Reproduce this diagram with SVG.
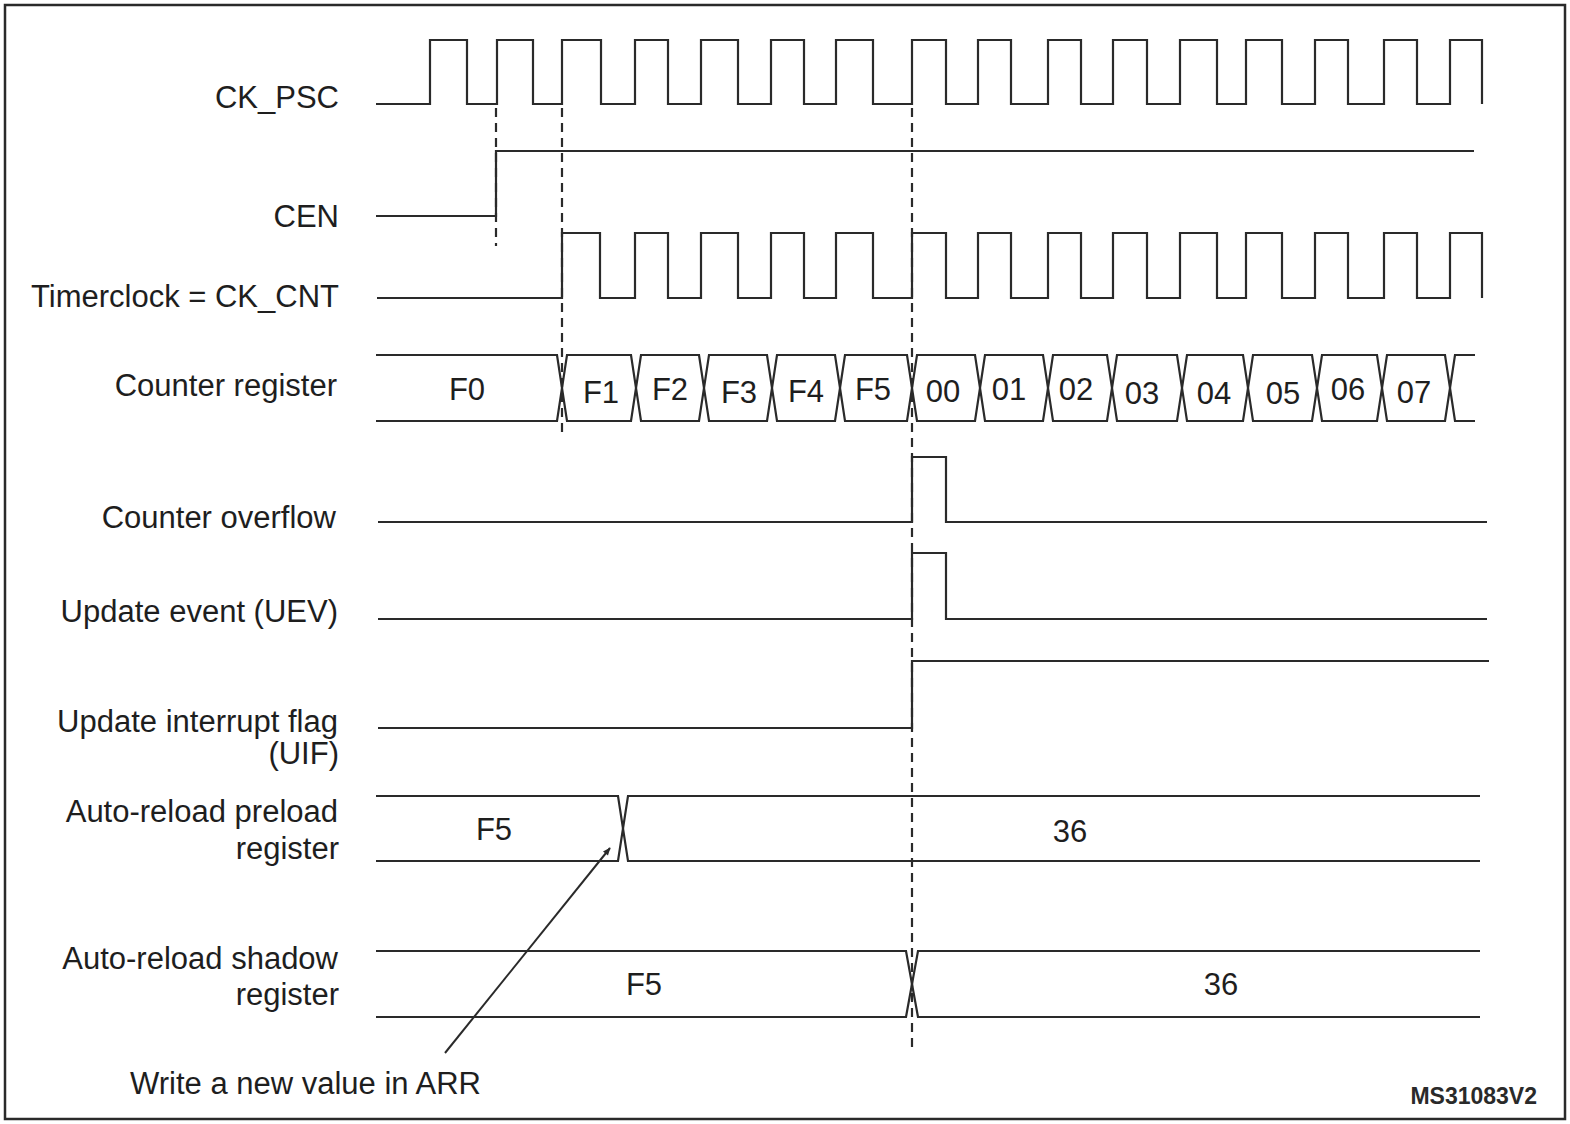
<svg xmlns="http://www.w3.org/2000/svg" width="1570" height="1124" viewBox="0 0 1570 1124">
<style>
.w{fill:none;stroke:#2a2a2a;stroke-width:2.2;stroke-linejoin:miter}
.d{fill:none;stroke:#2a2a2a;stroke-width:2.2;stroke-dasharray:9 6}
.l{font-family:"Liberation Sans",Arial,sans-serif;font-size:31px;fill:#1e1e1e;text-anchor:end}
.v{font-family:"Liberation Sans",Arial,sans-serif;font-size:31px;fill:#1e1e1e;text-anchor:middle}
</style>
<defs>
<marker id="ah" viewBox="0 0 10 10" refX="9" refY="5" markerWidth="9" markerHeight="8" orient="auto" markerUnits="userSpaceOnUse">
<path d="M0,1 L10,5 L0,9 z" fill="#2a2a2a"/>
</marker>
</defs>
<rect x="5" y="5" width="1560" height="1114" fill="#fff" stroke="#2a2a2a" stroke-width="2.5"/>

<g id="ck_psc">
<text class="l" x="339" y="108">CK_PSC</text>
<path class="w" d="M376,104 H430 V40 H467 V104 H497 V40 H533 V104 H562 V40 H601 V104 H635 V40 H668 V104 H701 V40 H738 V104 H771 V40 H804 V104 H836 V40 H873 V104 H912 V40 H946 V104 H978 V40 H1011 V104 H1048 V40 H1081 V104 H1113 V40 H1147 V104 H1180 V40 H1217 V104 H1246 V40 H1282 V104 H1315 V40 H1348 V104 H1384 V40 H1417 V104 H1450 V40 H1482 V104"/>
</g>

<g id="cen">
<text class="l" x="339" y="227">CEN</text>
<path class="w" d="M376,216 H496 V151 H1474"/>
</g>

<g id="ck_cnt">
<text class="l" x="339" y="307">Timerclock = CK_CNT</text>
<path class="w" d="M377,298 H562 V233 H600 V298 H635 V233 H668 V298 H701 V233 H738 V298 H771 V233 H804 V298 H836 V233 H873 V298 H912 V233 H946 V298 H978 V233 H1011 V298 H1048 V233 H1081 V298 H1113 V233 H1147 V298 H1180 V233 H1217 V298 H1246 V233 H1282 V298 H1315 V233 H1348 V298 H1384 V233 H1417 V298 H1450 V233 H1482 V298"/>
</g>

<g id="counter">
<text class="l" x="337" y="396">Counter register</text>
<path class="w" d="M376,355 H557 L567,421 H631 L641,355 H699 L709,421 H767 L777,355 H835 L845,421 H907 L917,355 H975 L985,421 H1043 L1053,355 H1107 L1117,421 H1177 L1187,355 H1243 L1253,421 H1312 L1322,355 H1377 L1387,421 H1445 L1455,355 H1475"/>
<path class="w" d="M376,421 H557 L567,355 H631 L641,421 H699 L709,355 H767 L777,421 H835 L845,355 H907 L917,421 H975 L985,355 H1043 L1053,421 H1107 L1117,355 H1177 L1187,421 H1243 L1253,355 H1312 L1322,421 H1377 L1387,355 H1445 L1455,421 H1475"/>
<text class="v" x="467" y="400">F0</text>
<text class="v" x="601" y="403">F1</text>
<text class="v" x="670" y="400">F2</text>
<text class="v" x="739" y="403">F3</text>
<text class="v" x="806" y="402">F4</text>
<text class="v" x="873" y="400">F5</text>
<text class="v" x="943" y="402">00</text>
<text class="v" x="1009" y="400">01</text>
<text class="v" x="1076" y="400">02</text>
<text class="v" x="1142" y="404">03</text>
<text class="v" x="1214" y="404">04</text>
<text class="v" x="1283" y="404">05</text>
<text class="v" x="1348" y="400">06</text>
<text class="v" x="1414" y="403">07</text>
</g>

<g id="overflow">
<text class="l" x="336" y="528">Counter overflow</text>
<path class="w" d="M378,522 H912 V457 H946 V522 H1487"/>
</g>

<g id="uev">
<text class="l" x="338" y="622">Update event (UEV)</text>
<path class="w" d="M378,619 H912 V553 H946 V619 H1487"/>
</g>

<g id="uif">
<text class="l" x="338" y="732">Update interrupt flag</text>
<text class="l" x="339" y="764">(UIF)</text>
<path class="w" d="M378,728 H912 V661 H1489"/>
</g>

<g id="arr_preload">
<text class="l" x="338" y="822">Auto-reload preload</text>
<text class="l" x="339" y="859">register</text>
<path class="w" d="M376,796 H618 L628,861 H1480"/>
<path class="w" d="M376,861 H618 L628,796 H1480"/>
<text class="v" x="494" y="840">F5</text>
<text class="v" x="1070" y="842">36</text>
</g>

<g id="arr_shadow">
<text class="l" x="338" y="969">Auto-reload shadow</text>
<text class="l" x="339" y="1005">register</text>
<path class="w" d="M376,951 H906 L918,1017 H1480"/>
<path class="w" d="M376,1017 H906 L918,951 H1480"/>
<text class="v" x="644" y="995">F5</text>
<text class="v" x="1221" y="995">36</text>
</g>

<g id="connectors">
<line class="d" x1="496" y1="108" x2="496" y2="246"/>
<line class="d" x1="562" y1="108" x2="562" y2="434"/>
<line class="d" x1="912" y1="108" x2="912" y2="1047"/>
<line x1="445" y1="1053" x2="610" y2="848" stroke="#2a2a2a" stroke-width="2" marker-end="url(#ah)"/>
</g>

<g id="note">
<text x="130" y="1094" style="font-family:'Liberation Sans',Arial,sans-serif;font-size:31px;fill:#1e1e1e">Write a new value in ARR</text>
<text x="1537" y="1104" style="font-family:'Liberation Sans',Arial,sans-serif;font-size:23px;font-weight:bold;fill:#2a2a2a;text-anchor:end">MS31083V2</text>
</g>
</svg>
